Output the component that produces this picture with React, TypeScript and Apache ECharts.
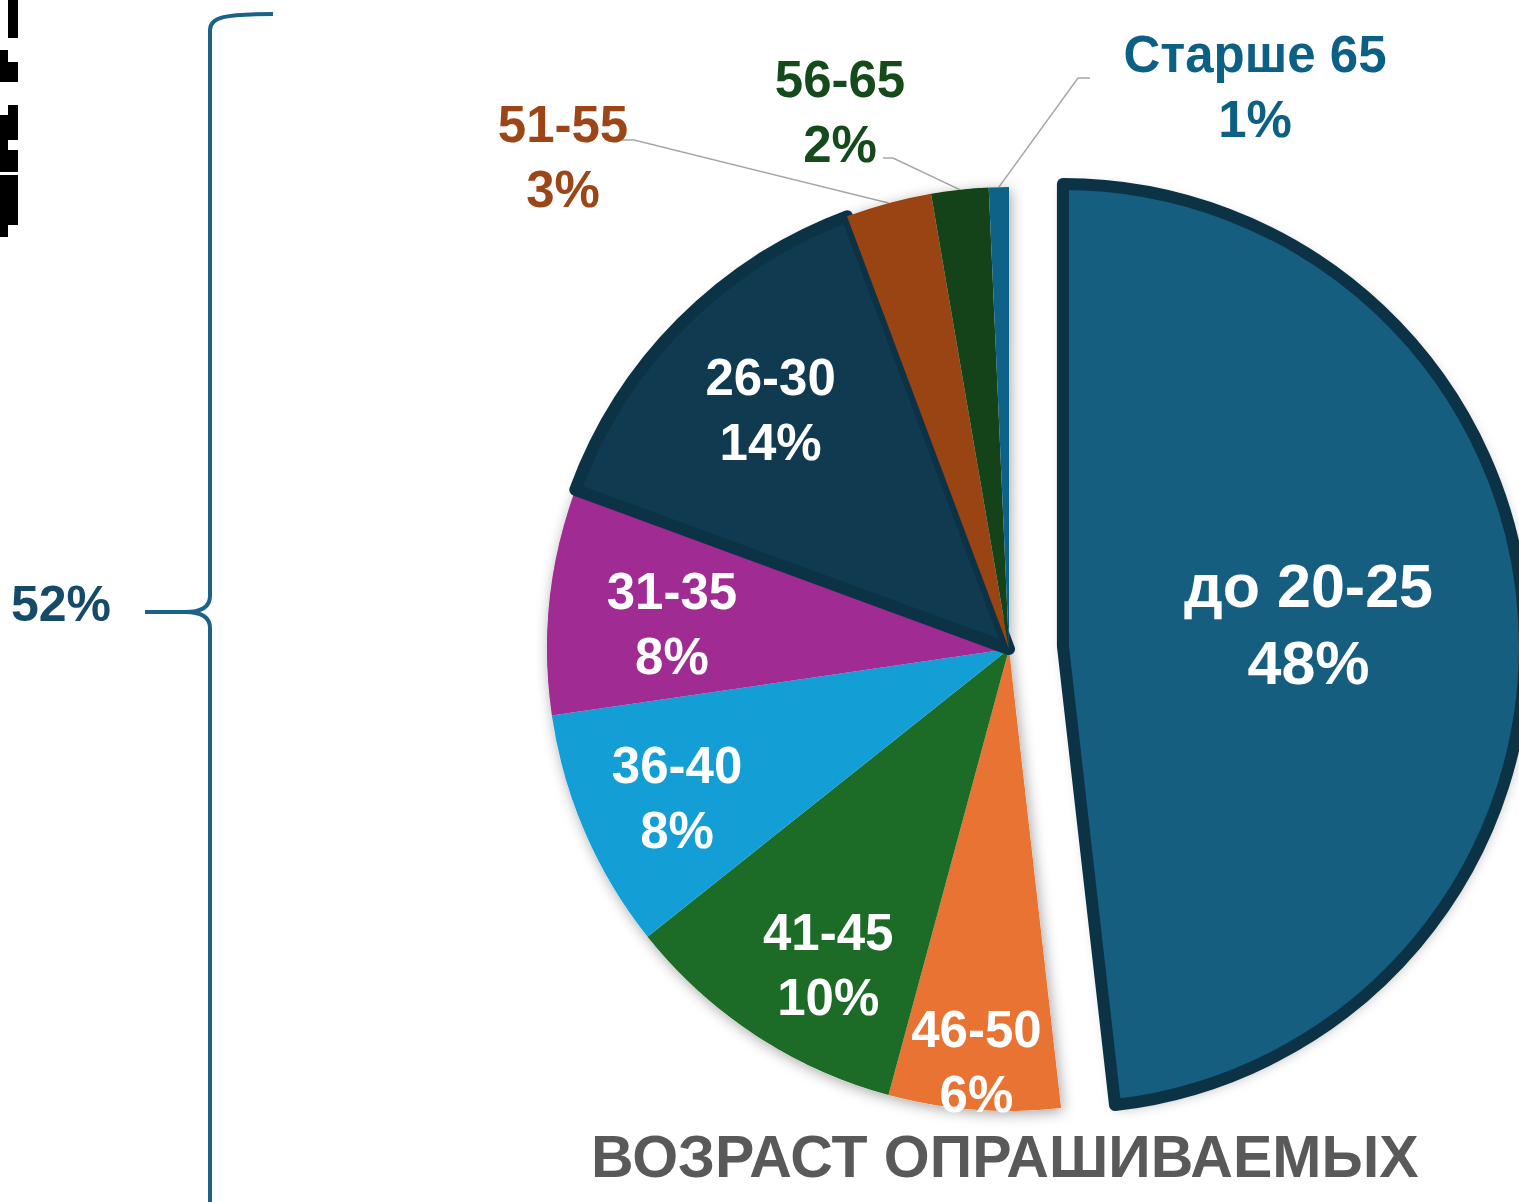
import React, { useEffect, useRef } from "react";
import * as echarts from "echarts";

const categories = ["до 20-25", "46-50", "41-45", "36-40", "31-35", "26-30", "51-55", "56-65", "Старше 65"];
const values = [48.2, 6, 10.1, 8.4, 7.9, 13.7, 3, 2, 0.7];
const sliceColors = ["#165e80", "#e97333", "#1c6b27", "#139fd6", "#a02b93", "#0f3a50", "#9a4414", "#144219", "#0e6288"];
const labelColors = ["#ffffff", "#ffffff", "#ffffff", "#ffffff", "#ffffff", "#ffffff", "#9c4516", "#154a1b", "#0b6083"];
const borderedSlices = ["до 20-25", "26-30"];
const outsideSlices = ["51-55", "56-65", "Старше 65"];
const bracketLabel = "52%";
const chartTitle = "ВОЗРАСТ ОПРАШИВАЕМЫХ";

const FONT = '"Liberation Sans", Arial, sans-serif';

const fmt = (p: any) => `${p.name}\n${Math.round(p.percent)}%`;

export default function App() {
  const ref = useRef<HTMLDivElement>(null);
  useEffect(() => {
    document.body.style.margin = "0";
    document.body.style.overflow = "hidden";
    const chart = echarts.init(ref.current!, null, { renderer: "svg" });
    const center = [1009, 649];
    const R = 462;

    const outsidePos: Record<string, { x: number; y: number; elbow: number[]; end: number[] }> = {
      "51-55": { x: 563, y: 157, elbow: [634, 140], end: [622, 140] },
      "56-65": { x: 840, y: 112, elbow: [893, 158], end: [883, 158] },
      "Старше 65": { x: 1255, y: 87, elbow: [1078, 78], end: [1090, 78] },
    };
    const innerShift: Record<string, number[]> = {
      "46-50": [-6, 61],
      "41-45": [13, 21],
      "36-40": [-8, 9],
      "31-35": [14, 12],
      "26-30": [12, 10],
    };

    const bracketColor = "#1a6288";
    const pixelRects = [
      [8, 0, 10, 38],
      [0, 50, 8, 12],
      [0, 62, 18, 20],
      [8, 105, 10, 10],
      [0, 115, 18, 25],
      [0, 140, 8, 10],
      [0, 150, 18, 22],
      [0, 175, 18, 50],
      [0, 225, 8, 12],
    ];

    chart.setOption({
      animation: false,
      backgroundColor: "#ffffff",
      title: {
        text: chartTitle,
        left: 586,
        top: 1122,
        textStyle: { fontFamily: FONT, fontSize: 59, fontWeight: "bold", color: "#595959" },
      },
      graphic: [
        ...pixelRects.map((r) => ({
          type: "rect",
          shape: { x: r[0], y: r[1], width: r[2], height: r[3] },
          style: { fill: "#000" },
        })),
        {
          type: "bezierCurve",
          shape: { x1: 273, y1: 14, cpx1: 225, cpy1: 14, cpx2: 210, cpy2: 17, x2: 210, y2: 30 },
          style: { stroke: bracketColor, lineWidth: 4, fill: null },
        },
        {
          type: "line",
          shape: { x1: 210, y1: 30, x2: 210, y2: 596 },
          style: { stroke: bracketColor, lineWidth: 4 },
        },
        {
          type: "bezierCurve",
          shape: { x1: 210, y1: 596, cpx1: 210, cpy1: 608, cpx2: 200, cpy2: 612, x2: 185, y2: 612 },
          style: { stroke: bracketColor, lineWidth: 4, fill: null },
        },
        {
          type: "line",
          shape: { x1: 185, y1: 612, x2: 145, y2: 612 },
          style: { stroke: bracketColor, lineWidth: 4 },
        },
        {
          type: "bezierCurve",
          shape: { x1: 185, y1: 612, cpx1: 200, cpy1: 612, cpx2: 210, cpy2: 616, x2: 210, y2: 628 },
          style: { stroke: bracketColor, lineWidth: 4, fill: null },
        },
        {
          type: "line",
          shape: { x1: 210, y1: 628, x2: 210, y2: 1202 },
          style: { stroke: bracketColor, lineWidth: 4 },
        },
        {
          type: "text",
          x: 11,
          y: 604,
          style: {
            text: bracketLabel,
            fontFamily: FONT,
            fontSize: 50,
            fontWeight: "bold",
            fill: "#154b68",
            verticalAlign: "middle",
            align: "left",
          },
        },
      ],
      series: [
        {
          type: "pie",
          id: "shadow",
          center,
          radius: [0, R],
          startAngle: 90,
          clockwise: true,
          silent: true,
          selectedMode: "single",
          selectedOffset: 54,
          emphasis: { disabled: true },
          label: { show: false },
          labelLine: { show: false },
          itemStyle: {
            color: "#ffffff",
            shadowBlur: 14,
            shadowColor: "rgba(0,0,0,0.35)",
            shadowOffsetX: 2,
            shadowOffsetY: 3,
          },
          data: categories.map((name, i) => ({ name, value: values[i], selected: i === 0 })),
        },
        {
          type: "pie",
          id: "main",
          center,
          radius: [0, R],
          startAngle: 90,
          clockwise: true,
          silent: true,
          selectedMode: "single",
          selectedOffset: 54,
          avoidLabelOverlap: false,
          emphasis: { disabled: true },
          label: {
            show: true,
            fontFamily: FONT,
            fontWeight: "bold",
            fontSize: 51,
            lineHeight: 65,
            align: "center",
            formatter: fmt,
          },
          labelLine: { show: true, length: 20, length2: 10, lineStyle: { color: "#a6a6a6", width: 1.5 } },
          labelLayout: (p: any) => {
            const name = categories[p.dataIndex];
            if (p.dataIndex === 0) return { dx: 12, dy: -8 };
            const o = outsidePos[name];
            if (!o) return {};
            const pts = p.labelLinePoints;
            const res: any = { x: o.x, y: o.y, align: "center", verticalAlign: "middle" };
            if (pts && pts[0]) res.labelLinePoints = [pts[0], o.elbow, o.end];
            return res;
          },
          data: categories.map((name, i) => {
            const bordered = borderedSlices.includes(name);
            const outside = outsideSlices.includes(name);
            return {
              name,
              value: values[i],
              selected: i === 0,
              itemStyle: {
                color: sliceColors[i],
                borderColor: bordered ? "#0c3246" : sliceColors[i],
                borderWidth: bordered ? 12 : 0,
                borderJoin: "round",
              },
              label:
                i === 0
                  ? { show: true, position: "inside", color: labelColors[i], fontSize: 61, lineHeight: 77 }
                  : outside
                  ? { show: true, position: "outside", color: labelColors[i] }
                  : { show: false },
              labelLine: { show: outside },
            };
          }),
        },
        {
          type: "pie",
          id: "labels",
          center,
          radius: [0, 700],
          startAngle: 90,
          clockwise: true,
          silent: true,
          emphasis: { disabled: true },
          itemStyle: { color: "rgba(0,0,0,0)", borderWidth: 0 },
          label: {
            show: true,
            position: "inside",
            fontFamily: FONT,
            fontWeight: "bold",
            fontSize: 51,
            lineHeight: 65,
            align: "center",
            color: "#ffffff",
            formatter: fmt,
          },
          labelLine: { show: false },
          labelLayout: (p: any) => {
            const s = innerShift[categories[p.dataIndex]];
            return s ? { dx: s[0], dy: s[1] } : {};
          },
          data: categories.map((name, i) => ({
            name,
            value: values[i],
            label: { show: !!innerShift[name] },
          })),
        },
      ],
    });
    return () => chart.dispose();
  }, []);
  return <div ref={ref} style={{ width: 1519, height: 1202 }} />;
}
